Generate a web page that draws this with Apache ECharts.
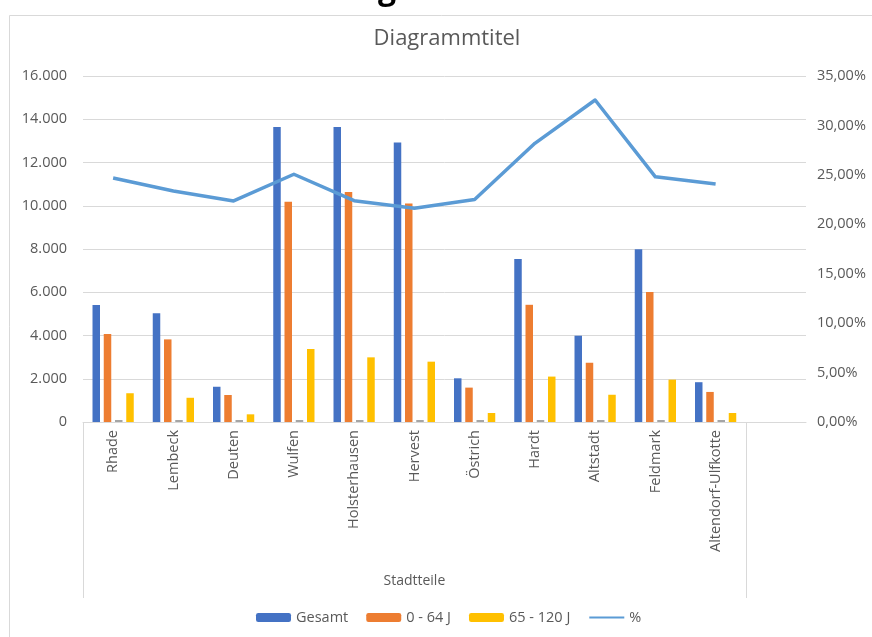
<!DOCTYPE html>
<html>
<head>
<meta charset="utf-8">
<title>Stadtteile</title>
<script src="https://cdn.jsdelivr.net/npm/echarts@6/dist/echarts.min.js"></script>
<style>
  html, body { margin: 0; padding: 0; background: #fff; }
  #chart { width: 872px; height: 637px; }
</style>
</head>
<body>
<div id="chart"></div>
<script>
// Einwohner je Stadtteil
const stadtteile = ['Rhade', 'Lembeck', 'Deuten', 'Wulfen', 'Holsterhausen', 'Hervest',
  'Östrich', 'Hardt', 'Altstadt', 'Feldmark', 'Altendorf-Ulfkotte'];
const gesamt   = [5410, 5030, 1630, 13640, 13640, 12930, 2020, 7540, 3990, 7990, 1840];
const jung     = [4070, 3820, 1250, 10190, 10640, 10100, 1590, 5420, 2740, 6010, 1390];
const alt      = [1330, 1120,  355,  3376,  2990,  2790,  416, 2100, 1260, 1960,  416];
// Anteil 65 - 120 J in Prozent
const anteil   = [24.68, 23.37, 22.36, 25.06, 22.39, 21.62, 22.50, 28.19, 32.57, 24.80, 24.08];
// Anteil als Bruch auf der Hauptachse (Hilfsreihe)
const anteilBruch = anteil.map(v => v / 100);

const leftTicks = { min: 0, max: 16000, interval: 2000 };
const rightTicks = { min: 0, max: 35, interval: 5 };

const gray = '#595959';
const lineGray = '#D9D9D9';
const font = '"Open Sans", "Liberation Sans", sans-serif';

// Plot area; the category axis holds one empty slot after the last Stadtteil
const plot = { left: 83, right: 66, top: 76, bottom: 215 };
const slots = stadtteile.length + 1;
const plotWidth = 872 - plot.left - plot.right;
const labelBoxRight = plot.right + plotWidth / slots;

const chart = echarts.init(document.getElementById('chart'), null, { renderer: 'canvas' });

chart.setOption({
  animation: false,
  backgroundColor: '#fff',
  textStyle: { fontFamily: font },
  title: {
    text: 'Diagrammtitel',
    left: 447,
    top: 28,
    textAlign: 'center',
    padding: 0,
    textStyle: { fontFamily: font, fontSize: 22, fontWeight: 'normal', color: gray }
  },
  graphic: [
    {
      type: 'rect',
      z: -10,
      shape: { x: 9.5, y: 15.5, width: 900, height: 700 },
      style: { fill: 'none', stroke: lineGray, lineWidth: 1 }
    },
    {
      type: 'text',
      style: {
        text: 'g',
        x: 387,
        y: 6,
        textAlign: 'center',
        textVerticalAlign: 'bottom',
        font: 'bold 32px "Open Sans", sans-serif',
        fill: '#000'
      }
    }
  ],
  legend: {
    left: 256,
    top: 610,
    itemWidth: 35,
    itemHeight: 9,
    itemGap: 18,
    padding: 0,
    textStyle: { fontFamily: font, fontSize: 14.5, color: gray },
    data: ['Gesamt', '0 - 64 J', '65 - 120 J', { name: '%', itemStyle: { opacity: 0 } }]
  },
  grid: [
    { left: plot.left, right: plot.right, top: plot.top, bottom: plot.bottom, containLabel: false },
    { left: plot.left, right: labelBoxRight, top: plot.top, bottom: plot.bottom, containLabel: false }
  ],
  xAxis: [
    {
      // category axis for the marks
      type: 'category',
      gridIndex: 0,
      data: stadtteile.concat(['']),
      axisLine: { show: true, lineStyle: { color: lineGray, width: 1 } },
      axisTick: { show: false },
      axisLabel: { show: false },
      splitLine: { show: false }
    },
    {
      // label box under the named Stadtteile
      type: 'category',
      gridIndex: 1,
      data: stadtteile,
      name: 'Stadtteile',
      nameLocation: 'middle',
      nameGap: 152,
      nameTextStyle: { fontFamily: font, fontSize: 14, color: gray },
      axisLine: { show: false },
      axisTick: {
        show: true,
        length: 176,
        interval: (i) => i === 0,
        lineStyle: { color: lineGray, width: 1 }
      },
      axisLabel: {
        rotate: 90,
        margin: 8,
        interval: 0,
        padding: [0, 0, 6, 0],
        fontFamily: font,
        fontSize: 14.5,
        color: gray
      },
      splitLine: { show: false }
    }
  ],
  yAxis: [
    {
      type: 'value',
      gridIndex: 0,
      min: leftTicks.min, max: leftTicks.max, interval: leftTicks.interval,
      axisLine: { show: false },
      axisTick: { show: false },
      splitLine: { lineStyle: { color: lineGray, width: 1 } },
      axisLabel: {
        margin: 16,
        fontFamily: font, fontSize: 14.5, color: gray,
        formatter: v => v.toString().replace(/\B(?=(\d{3})+(?!\d))/g, '.')
      }
    },
    {
      type: 'value',
      gridIndex: 0,
      min: rightTicks.min, max: rightTicks.max, interval: rightTicks.interval,
      axisLine: { show: false },
      axisTick: { show: false },
      splitLine: { show: false },
      axisLabel: {
        margin: 11,
        fontFamily: font, fontSize: 14.5, color: gray,
        formatter: v => v.toFixed(2).replace('.', ',') + '%'
      }
    },
    {
      type: 'value',
      gridIndex: 1,
      show: false
    }
  ],
  series: [
    {
      name: 'Gesamt', type: 'bar', data: gesamt,
      barWidth: 7.5, barGap: '50%',
      itemStyle: { color: '#4472C4' }
    },
    {
      name: '0 - 64 J', type: 'bar', data: jung,
      barWidth: 7.5, barGap: '50%',
      itemStyle: { color: '#ED7D31' }
    },
    {
      name: 'Anteil', type: 'bar', data: anteilBruch,
      barWidth: 7.5, barGap: '50%', barMinHeight: 2,
      itemStyle: { color: '#A5A5A5' }
    },
    {
      name: '65 - 120 J', type: 'bar', data: alt,
      barWidth: 7.5, barGap: '50%',
      itemStyle: { color: '#FFC000' }
    },
    {
      name: '%', type: 'line', yAxisIndex: 1, data: anteil,
      symbol: 'none', showSymbol: false,
      lineStyle: { color: '#5B9BD5', width: 3.5, join: 'round' },
      itemStyle: { color: '#5B9BD5' },
      z: 5
    }
  ]
});
</script>
</body>
</html>
